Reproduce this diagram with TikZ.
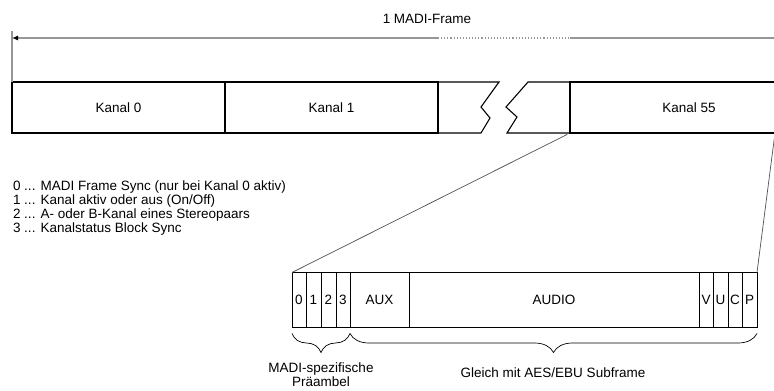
\documentclass[tikz,border=0pt]{standalone}
\usepackage{fontspec}
\setmainfont{Liberation Sans}
\usepackage{tikz}
\usetikzlibrary{arrows.meta,positioning,calc,decorations.pathreplacing}
\definecolor{FrameGray}{RGB}{150,150,150}
\definecolor{ZoomGray}{RGB}{80,80,80}

\begin{document}
\begin{tikzpicture}[x=1pt,y=-1pt,
        every node/.style={font=\fontsize{13.5}{14}\selectfont, inner sep=0pt, outer sep=0pt},
        chan/.style={draw, line width=1.1pt, minimum height=51pt},
        bit/.style={draw, line width=1pt, minimum height=55pt},
        dim/.style={draw=FrameGray, line width=1.1pt},
        zoom/.style={draw=ZoomGray, line width=0.7pt},
        brc/.style={decorate, decoration={brace, mirror, amplitude=19pt}, line width=0.7pt}
      ]
        \useasboundingbox (0,0) rectangle (774,391);
        % frame with channels
        \node[chan, minimum width=213pt] (k0) at (118.5,107.5) {Kanal 0};
        \node[chan, minimum width=213pt] (k1) at (331.5,107.5) {Kanal 1};
        \node[chan, minimum width=238pt] (k55) at (689,107.5) {Kanal 55};
        \coordinate (k55r) at (775,133);
        \draw[line width=1.1pt] (k1.north east) -- (499,82) -- (481,107) -- (490,118) -- (481,133) -- (k1.south east);
        \draw[line width=1.1pt] (k55.north west) -- (528,82) -- (506,107) -- (517,117) -- (507,133) -- (k55.south west);
        % length of one frame
        \node (title) at (427,19) {1 MADI-Frame};
        \coordinate (ftop) at (12,31);
        \coordinate (al) at (12,38);
        \coordinate (ad1) at (438,38);
        \coordinate (ad2) at (570,38);
        \coordinate (ar) at (790,38);
        \draw[dim] (ftop) -- (k0.north west);
        \draw[dim, -{Latex[length=6pt,width=5pt,color=black]}] (ad1) -- (al);
        \draw[dim, dotted] (ad1) -- (ad2);
        \draw[dim] (ad2) -- (ar);
        % legend
        \node[align=left, anchor=west] (leg) at (13,208) {0 ... MADI Frame Sync (nur bei Kanal 0 aktiv)\\1 ... Kanal aktiv oder aus (On/Off)\\2 ... A- oder B-Kanal eines Stereopaars\\3 ... Kanalstatus Block Sync};
        % subframe of channel 55
        \foreach \l/\r/\t/\n in {292/306/0/b0, 306/321/1/b1, 321/336/2/b2, 336/350/3/b3, 350/409/AUX/b4, 409/699/AUDIO/b5, 699/713/V/b6, 713/728/U/b7, 728/742/C/b8, 742/757/P/b9}
          {\node[bit, minimum width=\r-\l] (\n) at ({(\l+\r)/2},300) {\t};}
        \draw[zoom, shorten <=3pt] (k55.south west) -- (b0.north west);
        \draw[zoom] (k55r) -- (b9.north east);
        \draw[brc] ([yshift=-6pt]b0.south west) -- ([yshift=-6pt]b3.south east);
        \draw[brc] ([yshift=-6pt]b3.south east) -- ([yshift=-6pt]b9.south east);
        \node[align=center] (pre) at (321,375) {MADI-spezifische\\Präambel};
        \node (aes) at (553,373) {Gleich mit AES/EBU Subframe};
      \end{tikzpicture}
\end{document}
